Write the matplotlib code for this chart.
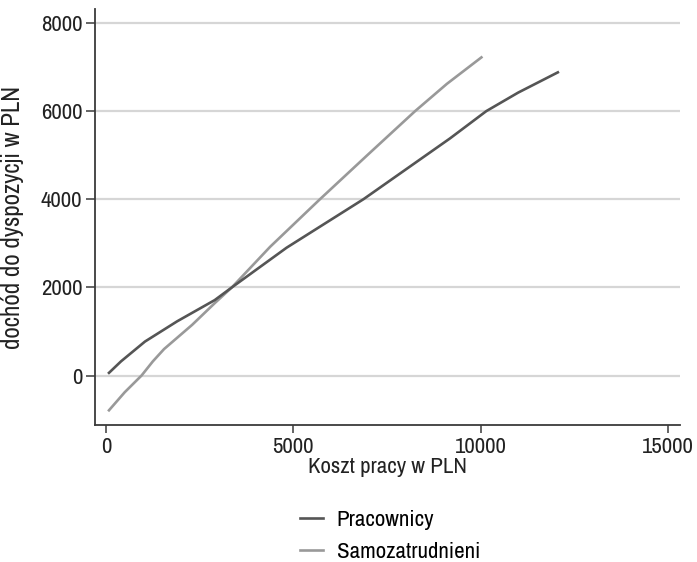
import matplotlib

matplotlib.use("Agg")
import matplotlib.pyplot as plt
from matplotlib import font_manager

# values (x = Koszt pracy, y = dochód do dyspozycji)
prac_x = [80, 400, 1040, 1900, 2900, 3360, 4820, 6870, 9180, 10150, 11000, 12060]
prac_y = [60, 320, 770, 1230, 1710, 2000, 2900, 4000, 5380, 6000, 6420, 6880]
samo_x = [80, 500, 950, 1250, 1550, 2300, 2900, 3360, 4380, 5710, 7000, 8250, 9100, 10020]
samo_y = [-790, -380, 0, 320, 600, 1150, 1640, 2000, 2920, 4000, 5020, 6000, 6620, 7220]

x_ticks = [0, 5000, 10000, 15000]
y_ticks = [0, 2000, 4000, 6000, 8000]

names = sorted({f.name for f in font_manager.fontManager.ttflist})
narrow = [n for n in names if "Narrow" in n or "Condensed" in n]
print("narrow:", narrow)
if narrow:
    family, fs = narrow[0], 16.5
else:
    family, fs = "Liberation Sans", 14
plt.rcParams["font.family"] = [family, "DejaVu Sans"]

axis_col = "#3a3a3a"
txt_col = "#222222"

fig = plt.figure(figsize=(6.97, 5.62), dpi=100)
ax = fig.add_axes([0.137, 0.2438, 0.9756 - 0.137, 0.984 - 0.2438])

for v in y_ticks:
    ax.axhline(v, color="#d6d6d6", lw=1.6, zorder=1)

ax.plot(prac_x, prac_y, color="#555555", lw=1.9, label="Pracownicy", zorder=3)
ax.plot(samo_x, samo_y, color="#999999", lw=1.9, label="Samozatrudnieni", zorder=2)

ax.set_xlim(-280, 15320)
ax.set_ylim(-1123, 8318)
ax.set_xticks(x_ticks)
ax.set_yticks(y_ticks)
ax.tick_params(axis="both", direction="out", length=6.5, width=1.1, color=axis_col,
               labelsize=fs, labelcolor=txt_col, pad=3)
ax.tick_params(axis="x", length=5.5, pad=3)

for s in ("top", "right"):
    ax.spines[s].set_visible(False)
for s in ("left", "bottom"):
    ax.spines[s].set_color(axis_col)
    ax.spines[s].set_linewidth(1.3)

ax.set_xlabel("Koszt pracy w PLN", fontsize=fs, color=txt_col, labelpad=0)
ax.set_ylabel("dochód do dyspozycji w PLN", fontsize=fs + 1.5, color=txt_col, labelpad=12)

fig.legend(loc="center", bbox_to_anchor=(390 / 697, 1 - 536 / 562), frameon=False,
           fontsize=fs, handlelength=1.0, handletextpad=0.6, labelspacing=0.5,
           borderpad=0, ncol=1)

fig.savefig("out.png", dpi=100)
